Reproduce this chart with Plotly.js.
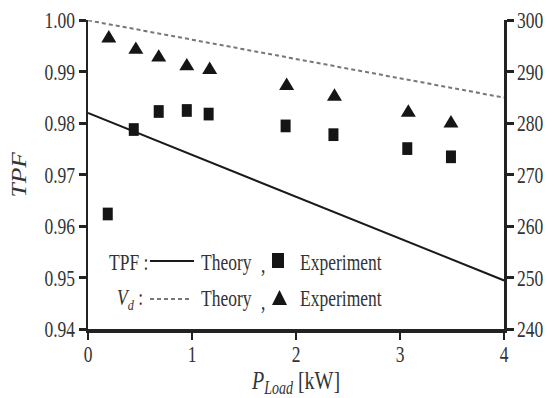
<!DOCTYPE html>
<html>
<head>
<meta charset="utf-8">
<script src="https://cdn.plot.ly/plotly-3.0.1.min.js"></script>
<style>
  html, body { margin: 0; padding: 0; background: #fff; }
  #wrap { position: relative; width: 554px; height: 398px; overflow: hidden; background: #fff; }
  #chart { position: absolute; left: 0; top: 0; width: 554px; height: 313px; transform: scaleY(1.2716); transform-origin: 0 0; }
</style>
</head>
<body>
<div id="wrap"><div id="chart"></div></div>
<script>
// ---- data ----
const pLoadTheory = [0, 4];
const tpfTheory = [0.982, 0.9495];
const vdTheory = [300, 285.0];

const pLoadTpfExp = [0.19, 0.44, 0.68, 0.95, 1.16, 1.90, 2.36, 3.07, 3.49];
const tpfExp = [0.9624, 0.9788, 0.9823, 0.9825, 0.9818, 0.9795, 0.9778, 0.9751, 0.9735];

const pLoadVdExp = [0.20, 0.46, 0.68, 0.95, 1.17, 1.91, 2.37, 3.08, 3.49];
const vdExp = [296.5, 294.3, 292.8, 291.1, 290.4, 287.3, 285.2, 282.1, 280.0];

const xTicks = [0, 1, 2, 3, 4];
const tpfTicks = [0.94, 0.95, 0.96, 0.97, 0.98, 0.99, 1.00];
const vdTicks = [240, 250, 260, 270, 280, 290, 300];

// ---- layout helpers (reference pixel -> paper) ----
const S = 1.2716, L = 88, R = 504, T = 16, B = 259;
const px = x => (x - L) / (R - L);
const py = y => (B - y / S) / (B - T);

const FONT = 'Liberation Serif, Times New Roman, serif';
const TXT = '#333';

const traces = [
  { x: pLoadTheory, y: tpfTheory, mode: 'lines', line: { color: '#1a1a1a', width: 1.6 }, showlegend: false },
  { x: pLoadTheory, y: vdTheory, yaxis: 'y2', mode: 'lines', line: { color: '#777', width: 1.6, dash: '4px,3px' }, showlegend: false },
  { x: pLoadTpfExp, y: tpfExp, mode: 'markers', marker: { symbol: 'square', size: 10, color: '#151515' }, cliponaxis: false, showlegend: false },
  { x: pLoadVdExp, y: vdExp, yaxis: 'y2', mode: 'markers', marker: { symbol: 'triangle-up', size: 13, color: '#151515' }, cliponaxis: false, showlegend: false }
];

const axisCommon = {
  showgrid: false, zeroline: false, showline: true, linecolor: '#222', linewidth: 2.5,
  ticks: 'outside', ticklen: 7, tickwidth: 2.5, tickcolor: '#222',
  tickfont: { family: FONT, size: 17.5, color: TXT }
};

function ann(text, x, y, extra) {
  return Object.assign({ text, x: px(x), y: py(y), xref: 'paper', yref: 'paper', xanchor: 'left', yanchor: 'middle',
    showarrow: false, font: { family: FONT, size: 17.5, color: TXT } }, extra || {});
}

const layout = {
  width: 554, height: 313,
  margin: { l: L, r: 554 - R, t: T, b: 313 - B },
  paper_bgcolor: '#fff', plot_bgcolor: '#fff',
  showlegend: false,
  xaxis: Object.assign({}, axisCommon, {
    range: [0, 4], tickvals: xTicks, ticktext: xTicks.map(String), ticklen: 6, ticklabelstandoff: -4,
    title: { text: '<i>P</i><sub><i>Load</i></sub> [kW]', font: { family: FONT, size: 20, color: TXT }, standoff: 9 }
  }),
  yaxis: Object.assign({}, axisCommon, {
    range: [0.94, 1.0], tickvals: tpfTicks, ticktext: tpfTicks.map(v => v.toFixed(2)),
    title: { text: '<i>TPF</i>', font: { family: FONT, size: 20, color: TXT }, standoff: 13 }
  }),
  yaxis2: Object.assign({}, axisCommon, {
    range: [240, 300], tickvals: vdTicks, ticktext: vdTicks.map(String),
    overlaying: 'y', side: 'right'
  }),
  annotations: [
    ann('TPF :', 107, 262),
    ann('Theory', 199, 262),
    ann(',', 259, 264),
    ann('Experiment', 298, 262),
    ann('<i>V</i><sub><i>d</i></sub> :', 115, 299),
    ann('Theory', 199, 299),
    ann(',', 259, 301),
    ann('Experiment', 298, 299)
  ],
  shapes: [
    { type: 'line', xref: 'paper', yref: 'paper', x0: px(150), x1: px(194), y0: py(261), y1: py(261), line: { color: '#1a1a1a', width: 1.6 } },
    { type: 'line', xref: 'paper', yref: 'paper', x0: px(150), x1: px(192), y0: py(299), y1: py(299), line: { color: '#777', width: 1.6, dash: '4px,3px' } },
    { type: 'rect', xref: 'paper', yref: 'paper', x0: px(272), x1: px(284), y0: py(253), y1: py(268), fillcolor: '#151515', line: { width: 0 } },
    { type: 'path', xref: 'paper', yref: 'paper', path: `M ${px(272)} ${py(305)} L ${px(287)} ${py(305)} L ${px(279.5)} ${py(290)} Z`, fillcolor: '#151515', line: { width: 0 } }
  ]
};

Plotly.newPlot('chart', traces, layout, { displayModeBar: false, staticPlot: true });
</script>
</body>
</html>
